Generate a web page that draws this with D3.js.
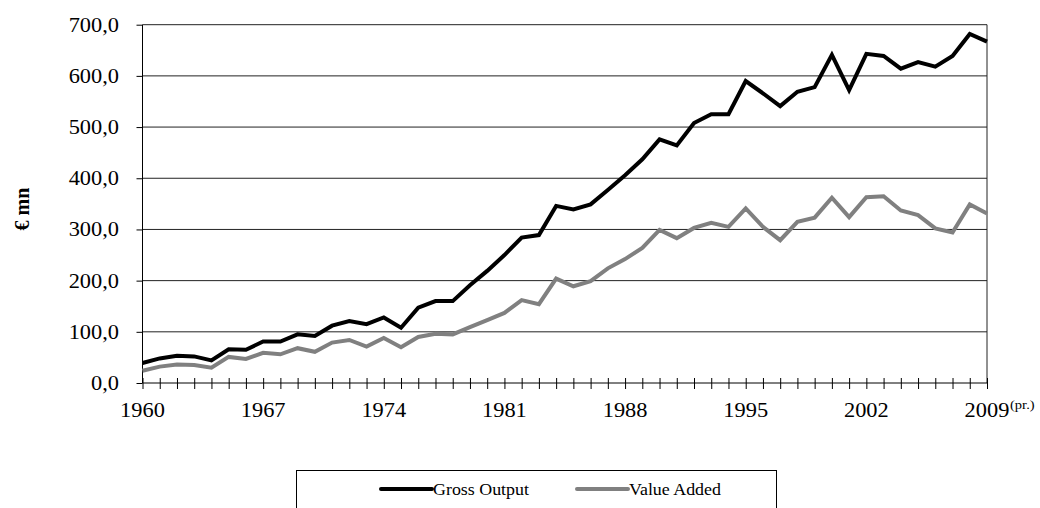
<!DOCTYPE html>
<html>
<head>
<meta charset="utf-8">
<script src="https://cdn.jsdelivr.net/npm/d3@7"></script>
<style>
  body { margin: 0; background: #fff; }
</style>
</head>
<body>
<div id="chart"></div>
<script>
// years 1960 .. 2009 (2009 provisional)
const years = d3.range(1960, 2010);

// Gross Output, € mn
const grossOutput = [
  39, 48, 53, 52, 44, 66, 65, 81, 81, 95,
  92, 112, 121, 115, 128, 108, 147, 160, 160, 191,
  219, 250, 284, 289, 346, 339, 349, 377, 406, 437,
  476, 464, 508, 525, 525, 590, 566, 541, 569, 578,
  641, 572, 643, 639, 614, 627, 618, 639, 682, 667
];

// Value Added, € mn
const valueAdded = [
  24, 32, 36, 35, 30, 51, 47, 59, 56, 68,
  61, 79, 84, 71, 88, 70, 90, 96, 95, 109,
  123, 137, 162, 154, 204, 189, 199, 224, 242, 264,
  299, 283, 303, 313, 305, 341, 305, 279, 315, 323,
  362, 324, 363, 365, 337, 328, 302, 294, 349, 331
];

const yTicks = [0, 100, 200, 300, 400, 500, 600, 700];
const xLabelYears = [1960, 1967, 1974, 1981, 1988, 1995, 2002, 2009];

const seriesNames = ["Gross Output", "Value Added"];
const seriesColors = ["#000000", "#808080"];

const width = 1040, height = 508;
const plotLeft = 142.5, plotRight = 987, plotTop = 24.7, plotBottom = 383;
const sx = 1.12; // horizontal stretch of the original text
const serif = "'Liberation Serif', 'Times New Roman', 'DejaVu Serif', serif";

const svg = d3.select("#chart").append("svg")
    .attr("width", width)
    .attr("height", height)
    .attr("font-family", serif)
    .style("font-family", serif);

const x = d3.scaleLinear().domain([1960, 2009]).range([plotLeft, plotRight]);
const y = d3.scaleLinear().domain([0, 700]).range([plotBottom, plotTop]);

// gridlines
svg.append("g")
  .selectAll("line")
  .data(yTicks.filter(d => d > 0))
  .join("line")
    .attr("x1", plotLeft).attr("x2", plotRight)
    .attr("y1", d => y(d)).attr("y2", d => y(d))
    .attr("stroke", "#222").attr("stroke-width", 1);

// right border
svg.append("line")
    .attr("x1", plotRight).attr("x2", plotRight)
    .attr("y1", plotTop).attr("y2", plotBottom)
    .attr("stroke", "#222");

// y axis
const yAxis = svg.append("g")
    .attr("transform", `translate(${plotLeft},0)`)
    .call(d3.axisLeft(y).tickValues(yTicks).tickSize(6).tickFormat(() => ""));
yAxis.select(".domain").attr("stroke", "#000").attr("d", `M0,${plotBottom}V${plotTop}`);
yAxis.selectAll(".tick line").attr("stroke", "#000");

svg.append("g")
  .selectAll("text")
  .data(yTicks)
  .join("text")
    .attr("transform", d => `translate(119,${y(d)}) scale(${sx},1)`)
    .attr("text-anchor", "end")
    .attr("dy", "0.35em")
    .style("font-family", serif)
    .style("font-size", "20px")
    .text(d => d3.format(".1f")(d).replace(".", ","));

// x axis, ticks crossing the line
const xAxis = svg.append("g")
    .attr("transform", `translate(0,${plotBottom})`)
    .call(d3.axisBottom(x).tickValues(years).tickSize(6).tickFormat(() => ""));
xAxis.select(".domain").attr("stroke", "#000").attr("d", `M${plotLeft},0H${plotRight}`);
xAxis.selectAll(".tick line").attr("stroke", "#000").attr("y1", -5);

svg.append("g")
  .selectAll("text")
  .data(xLabelYears)
  .join("text")
    .attr("transform", d => `translate(${x(d)},${plotBottom + 34}) scale(${sx},1)`)
    .attr("text-anchor", "middle")
    .style("font-family", serif)
    .style("font-size", "20px")
    .text(d => d);

svg.append("text")
    .attr("transform", `translate(${x(2009) + 23},${plotBottom + 26}) scale(${sx},1)`)
    .style("font-family", serif)
    .style("font-size", "13px")
    .text("(pr.)");

// y title
svg.append("text")
    .attr("transform", "translate(29,209) rotate(-90)")
    .attr("text-anchor", "middle")
    .style("font-family", serif)
    .style("font-size", "20px")
    .style("font-weight", "bold")
    .text("€ mn");

// lines
const line = d3.line().x((d, i) => x(years[i])).y(d => y(d));
[grossOutput, valueAdded].forEach((s, k) => {
  svg.append("path")
      .datum(s)
      .attr("fill", "none")
      .attr("stroke", seriesColors[k])
      .attr("stroke-width", 4)
      .attr("stroke-linejoin", "miter")
      .attr("d", line);
});

// legend
svg.append("rect")
    .attr("x", 296.5).attr("y", 470.5)
    .attr("width", 480).attr("height", 60)
    .attr("fill", "none").attr("stroke", "#000");

const legendX = [381, 577];
seriesNames.forEach((name, k) => {
  const g = svg.append("g").attr("transform", `translate(${legendX[k]},489)`);
  g.append("line")
      .attr("x1", 0).attr("x2", 51)
      .attr("stroke", seriesColors[k]).attr("stroke-width", 4)
      .attr("stroke-linecap", "round");
  g.append("text")
      .attr("transform", `translate(52,0) scale(${sx},1)`)
      .attr("dy", "0.35em")
      .style("font-family", serif)
      .style("font-size", "16px")
      .text(name);
});
</script>
</body>
</html>
